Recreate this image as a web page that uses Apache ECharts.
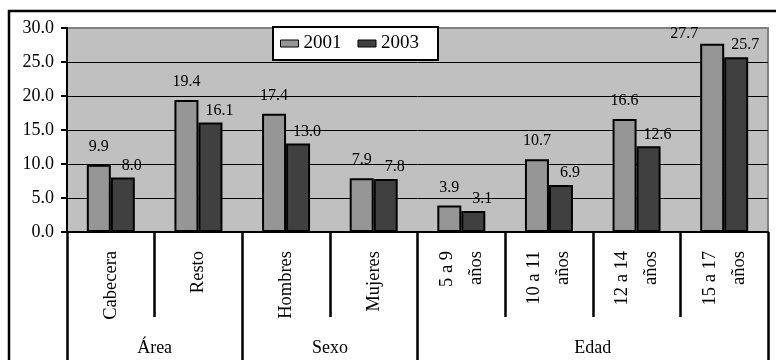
<!DOCTYPE html>
<html>
<head>
<meta charset="utf-8">
<script src="https://cdn.jsdelivr.net/npm/echarts@6/dist/echarts.min.js"></script>
<style>
  html, body { margin: 0; padding: 0; background: #fff; }
  #chart { width: 776px; height: 360px; }
</style>
</head>
<body>
<div id="chart"></div>
<script>
// Categories (inner level) and their groups (outer level)
const categories = ['Cabecera', 'Resto', 'Hombres', 'Mujeres', '5 a 9\naños', '10 a 11\naños', '12 a 14\naños', '15 a 17\naños'];
const groups = ['Área', 'Sexo', 'Edad'];
const groupSizes = [2, 2, 4];

// Series
const seriesNames = ['2001', '2003'];
const values2001 = [9.9, 19.4, 17.4, 7.9, 3.9, 10.7, 16.6, 27.7];
const values2003 = [8.0, 16.1, 13.0, 7.8, 3.1, 6.9, 12.6, 25.7];

// Value axis ticks
const yTicks = [0, 5, 10, 15, 20, 25, 30];

const FONT = "'Liberation Serif', 'Times New Roman', serif";
const GRID_TOP = 28;

// Group boundaries and centres on a 0..N scale
const groupEdges = [0];
groupSizes.forEach(function (s, i) { groupEdges.push(groupEdges[i] + s); });
const groupCentres = groups.map(function (g, i) { return (groupEdges[i] + groupEdges[i + 1]) / 2; });

const chart = echarts.init(document.getElementById('chart'), null, { renderer: 'canvas' });

const labelBase = {
  show: true,
  position: 'top',
  color: '#000',
  fontFamily: FONT,
  fontSize: 16,
  formatter: function (p) { return p.value.toFixed(1); }
};

// A value label that would rise past the top of the plot is set beside its bar instead
function keepInsidePlot(p) {
  if (p.labelRect.y < GRID_TOP - 2) {
    return { x: p.rect.x - 2, y: p.rect.y - 10, align: 'right', verticalAlign: 'middle' };
  }
  return {};
}

chart.setOption({
  animation: false,
  backgroundColor: '#fff',
  textStyle: { fontFamily: FONT, color: '#000' },
  graphic: [{
    type: 'rect',
    silent: true,
    shape: { x: 9, y: 11, width: 820, height: 420 },
    style: { fill: 'none', stroke: '#000', lineWidth: 2.5 }
  }],
  legend: {
    data: seriesNames,
    left: 273,
    top: 27,
    orient: 'horizontal',
    backgroundColor: '#fff',
    borderColor: '#000',
    borderWidth: 2,
    borderRadius: 0,
    padding: [7, 19, 7, 7],
    itemGap: 16,
    itemWidth: 18,
    itemHeight: 7,
    icon: 'rect',
    itemStyle: { borderWidth: 1, borderColor: '#000' },
    textStyle: { fontFamily: FONT, fontSize: 19, color: '#000' }
  },
  grid: {
    left: 67,
    right: 8,
    top: GRID_TOP,
    bottom: 128,
    show: true,
    backgroundColor: '#c0c0c0',
    borderColor: '#808080',
    borderWidth: 2
  },
  xAxis: [{
    type: 'category',
    data: categories,
    position: 'bottom',
    axisLine: { show: true, lineStyle: { color: '#000', width: 2 } },
    axisTick: { show: true, alignWithLabel: false, length: 85, lineStyle: { color: '#000', width: 2.5 } },
    axisLabel: {
      rotate: 90,
      margin: 19,
      interval: 0,
      fontFamily: FONT,
      fontSize: 18.5,
      lineHeight: 29,
      color: '#000'
    }
  }, {
    type: 'value',
    min: 0,
    max: categories.length,
    interval: 1,
    position: 'bottom',
    axisLine: { show: false },
    splitLine: { show: false },
    axisTick: {
      show: true,
      customValues: groupEdges,
      length: 135,
      lineStyle: { color: '#000', width: 2.5 }
    },
    axisLabel: {
      customValues: groupCentres,
      margin: 107,
      fontFamily: FONT,
      fontSize: 18,
      color: '#000',
      formatter: function (v) {
        const i = groupCentres.indexOf(v);
        return i >= 0 ? groups[i] : '';
      }
    }
  }],
  yAxis: {
    type: 'value',
    min: yTicks[0],
    max: yTicks[yTicks.length - 1],
    interval: yTicks[1] - yTicks[0],
    axisLine: { show: true, lineStyle: { color: '#000', width: 2 } },
    axisTick: { show: true, length: 6, lineStyle: { color: '#000', width: 2 } },
    axisLabel: {
      margin: 13,
      fontFamily: FONT,
      fontSize: 18,
      color: '#000',
      formatter: function (v) { return v.toFixed(1); }
    },
    splitLine: { show: true, showMinLine: false, showMaxLine: false, lineStyle: { color: '#000', width: 1 } }
  },
  series: [{
    name: seriesNames[0],
    type: 'bar',
    data: values2001,
    barWidth: 24,
    barGap: '0%',
    itemStyle: { color: '#969696', borderColor: '#000', borderWidth: 2 },
    label: Object.assign({}, labelBase, { distance: 10 }),
    labelLayout: keepInsidePlot
  }, {
    name: seriesNames[1],
    type: 'bar',
    data: values2003,
    barWidth: 24,
    barGap: '0%',
    itemStyle: { color: '#404040', borderColor: '#000', borderWidth: 2 },
    label: Object.assign({}, labelBase, { distance: 4, offset: [9, 0] })
  }]
});
</script>
</body>
</html>
